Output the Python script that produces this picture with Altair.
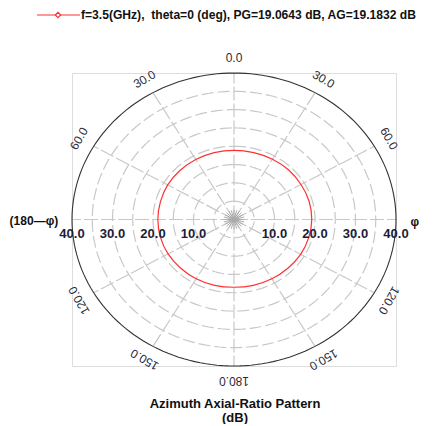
import altair as alt
import numpy as np
import pandas as pd

# ---- data ----
phi_deg = [0, 15, 30, 45, 60, 75, 90, 105, 120, 135, 150, 165,
           180, 195, 210, 225, 240, 255, 270, 285, 300, 315, 330, 345]
ar_db = [18.9, 18.9, 19.0, 19.1, 19.1, 19.2, 19.2, 19.1, 19.0, 18.8, 18.7, 18.6,
         18.5, 18.6, 18.7, 18.7, 18.8, 18.8, 18.8, 18.8, 18.9, 18.9, 18.9, 18.9]

grid_radii = [5, 10, 15, 20, 25, 30, 35]
outer_radius = 40
spoke_angles = [0, 30, 60, 90, 120, 150, 180, 210, 240, 270, 300, 330]
star_angles = list(range(0, 360, 15))

radial_label_values = [10, 20, 30, 40]
angle_label_angles = [0, 30, 60, 120, 150, 180, 330, 300, 240, 210]
angle_label_text = ["0.0", "30.0", "60.0", "120.0", "150.0", "180.0",
                    "30.0", "60.0", "120.0", "150.0"]

legend_text = "f=3.5(GHz),\u00a0 theta=0 (deg), PG=19.0643 dB, AG=19.1832 dB"
title_lines = ["Azimuth Axial-Ratio Pattern", "(dB)"]

FONT = "Liberation Sans"
W, H = 324, 293

xs = alt.Scale(domain=[-40, 40], nice=False, zero=False)
ys = alt.Scale(domain=[-40, 40], nice=False, zero=False)


def X(f):
    return alt.X(f, type="quantitative", scale=xs, axis=None)


def Y(f):
    return alt.Y(f, type="quantitative", scale=ys, axis=None)


# ---- grid circles ----
t = np.deg2rad(np.arange(0, 361, 2))
rows = []
for r in grid_radii:
    for i, a in enumerate(t):
        rows.append({"r": r, "i": i, "x": r * np.sin(a), "y": r * np.cos(a)})
circ_df = pd.DataFrame(rows)
outer_df = pd.DataFrame({"i": range(len(t)),
                         "x": outer_radius * np.sin(t),
                         "y": outer_radius * np.cos(t)})

circles = alt.Chart(circ_df).mark_line(
    color="#c8c8c8", strokeWidth=1.2, strokeDash=[12, 4]
).encode(x=X("x"), y=Y("y"), detail="r:N", order="i:Q")

outer = alt.Chart(outer_df).mark_line(color="#333333", strokeWidth=1.1).encode(
    x=X("x"), y=Y("y"), order="i:Q")

# ---- spokes ----
sa = np.deg2rad(spoke_angles)
spk_df = pd.DataFrame({"x": 0.0 * sa, "y": 0.0 * sa,
                       "x2": outer_radius * np.sin(sa), "y2": outer_radius * np.cos(sa)})
spokes = alt.Chart(spk_df).mark_rule(
    color="#c8c8c8", strokeWidth=1.2, strokeDash=[14, 3]
).encode(x=X("x"), y=Y("y"), x2="x2:Q", y2="y2:Q")

st = np.deg2rad(star_angles)
star_df = pd.DataFrame({"x": 0.0 * st, "y": 0.0 * st,
                        "x2": 2.6 * np.sin(st), "y2": 2.6 * np.cos(st)})
star = alt.Chart(star_df).mark_rule(color="#aaaaaa", strokeWidth=1).encode(
    x=X("x"), y=Y("y"), x2="x2:Q", y2="y2:Q")

# ---- AR pattern ----
pa = np.deg2rad(phi_deg)
ar = np.array(ar_db)
pat_df = pd.DataFrame({"i": range(len(phi_deg)), "x": ar * np.sin(pa), "y": ar * np.cos(pa)})
pattern = alt.Chart(pat_df).mark_line(
    color="#ff3030", strokeWidth=1.2, interpolate="cardinal-closed"
).encode(x=X("x"), y=Y("y"), order="i:Q")

# ---- radial labels ----
rl_rows = []
for v in radial_label_values:
    rl_rows.append({"x": v, "y": 0, "t": f"{v:.1f}"})
    rl_rows.append({"x": -v, "y": 0, "t": f"{v:.1f}"})
rl_df = pd.DataFrame(rl_rows)
radial_labels = alt.Chart(rl_df).mark_text(
    font=FONT, fontSize=13, fontWeight="bold", color="#1c1c38", dy=14,
    align="center", baseline="middle"
).encode(x=X("x"), y=Y("y"), text="t:N")

# ---- angle labels ----
la = np.deg2rad(angle_label_angles)
lr = 44.2
al_df = pd.DataFrame({"x": lr * np.sin(la), "y": lr * np.cos(la),
                      "rot": angle_label_angles, "t": angle_label_text})
angle_labels = alt.Chart(al_df).mark_text(
    font=FONT, fontSize=12, color="#2a2a3a", align="center", baseline="middle"
).encode(x=X("x"), y=Y("y"), text="t:N", angle=alt.Angle("rot:Q", scale=None))

side_df = pd.DataFrame({"x": [-43.4, 43.6], "y": [0, 0], "t": ["(180\u2014\u03c6)", "\u03c6"]})
left_lab = alt.Chart(side_df.iloc[[0]]).mark_text(
    font=FONT, fontSize=12, fontWeight="bold", color="#111111", align="right",
    baseline="middle", dy=1
).encode(x=X("x"), y=Y("y"), text="t:N")
right_lab = alt.Chart(side_df.iloc[[1]]).mark_text(
    font=FONT, fontSize=12, fontWeight="bold", color="#111111", align="left",
    baseline="middle", dy=2
).encode(x=X("x"), y=Y("y"), text="t:N")

# ---- legend (top) ----
leg_line = alt.Chart(pd.DataFrame({"a": [0]})).mark_rule(color="#ff3030", strokeWidth=1.2).encode(
    x=alt.value(-35), x2=alt.value(8), y=alt.value(-58))
leg_pt = alt.Chart(pd.DataFrame({"a": [0]})).mark_point(
    shape="diamond", filled=True, fill="white", stroke="#ff3030", strokeWidth=1.2, size=28, opacity=1
).encode(x=alt.value(-14), y=alt.value(-58))
leg_txt = alt.Chart(pd.DataFrame({"t": [legend_text]})).mark_text(
    font=FONT, fontSize=12.1, fontWeight="bold", color="#111111", align="left", baseline="middle"
).encode(x=alt.value(9), y=alt.value(-58), text="t:N")

# ---- bottom title ----
title_df = pd.DataFrame({"t": title_lines, "yy": [331, 345]})
title_txt = alt.Chart(title_df).mark_text(
    font=FONT, fontSize=13, fontWeight="bold", color="#111111", align="center", baseline="middle"
).encode(x=alt.value(163), y=alt.Y("yy:Q", scale=None), text="t:N")

chart = alt.layer(
    circles, spokes, star, outer, pattern, radial_labels, angle_labels,
    left_lab, right_lab, leg_line, leg_pt, leg_txt, title_txt
).properties(
    width=W, height=H,
    autosize=alt.AutoSizeParams(type="none"),
    padding={"left": 64, "top": 65, "right": 29, "bottom": 58},
).configure_view(stroke=None).configure(background="white")

chart.save("out.html", embed_options={"renderer": "svg", "actions": False})
